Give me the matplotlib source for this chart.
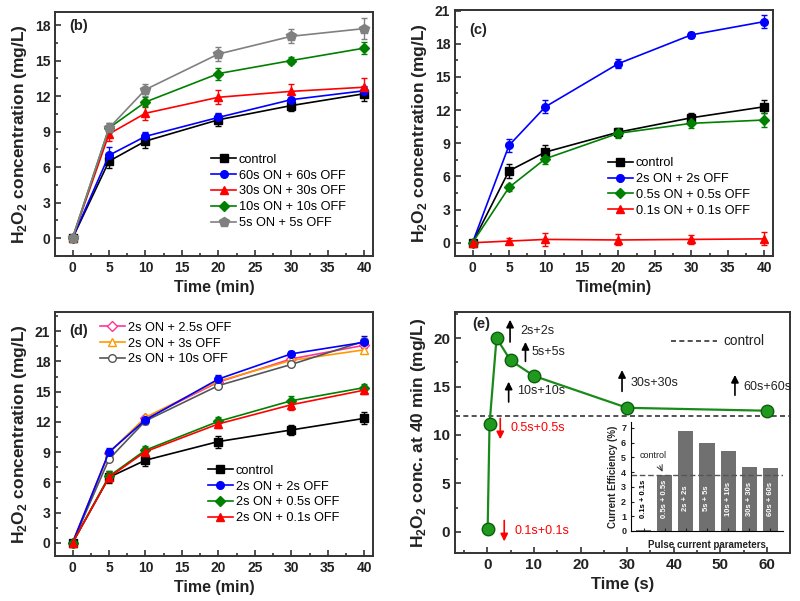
import matplotlib
matplotlib.use("Agg")
import matplotlib.pyplot as plt
from matplotlib.ticker import MultipleLocator, AutoMinorLocator

plt.rcParams['font.family'] = ['Liberation Sans', 'DejaVu Sans']
plt.rcParams['mathtext.fontset'] = 'custom'
plt.rcParams['mathtext.rm'] = 'Liberation Sans'
plt.rcParams['mathtext.bf'] = 'Liberation Sans:bold'

# --- DONNEES ---
t = [0, 5, 10, 20, 30, 40]

# panneau (b)
b_control = [0, 6.5, 8.2, 10.0, 11.2, 12.2]
b_60 = [0, 7.0, 8.6, 10.2, 11.7, 12.45]
b_30 = [0, 8.8, 10.55, 11.9, 12.4, 12.75]
b_10 = [0, 9.3, 11.5, 13.9, 15.0, 16.05]
b_5 = [0, 9.3, 12.55, 15.55, 17.05, 17.7]
b_control_err = [0, 0.6, 0.6, 0.5, 0.5, 0.6]
b_60_err = [0, 0.7, 0.4, 0.4, 0.4, 0.4]
b_30_err = [0, 0.6, 0.6, 0.6, 0.6, 0.8]
b_10_err = [0, 0.4, 0.4, 0.5, 0.3, 0.5]
b_5_err = [0, 0.4, 0.5, 0.6, 0.6, 0.9]

# panneau (c)
c_control = [0, 6.5, 8.2, 10.0, 11.3, 12.3]
c_2 = [0, 8.8, 12.3, 16.2, 18.8, 20.0]
c_05 = [0, 5.0, 7.6, 9.9, 10.8, 11.1]
c_01 = [0, 0.15, 0.3, 0.25, 0.3, 0.35]
c_control_err = [0, 0.6, 0.6, 0.4, 0.4, 0.6]
c_2_err = [0, 0.6, 0.6, 0.4, 0.3, 0.6]
c_05_err = [0, 0.3, 0.5, 0.4, 0.4, 0.6]
c_01_err = [0, 0.3, 0.6, 0.5, 0.4, 0.6]

# panneau (d)
d_control = [0, 6.5, 8.2, 10.05, 11.2, 12.35]
d_2 = [0, 9.0, 12.2, 16.25, 18.75, 19.9]
d_05 = [0, 6.6, 9.2, 12.05, 14.1, 15.4]
d_01 = [0, 6.5, 9.05, 11.8, 13.7, 15.15]
d_25 = [0, 8.95, 12.35, 15.95, 18.25, 19.6]
d_3 = [0, 8.95, 12.45, 16.05, 18.1, 19.15]
d_10 = [0, 8.3, 12.1, 15.6, 17.7, 20.0]
d_control_err = [0, 0.6, 0.6, 0.6, 0.5, 0.6]
d_2_err = [0, 0.4, 0.4, 0.4, 0.3, 0.6]
d_05_err = [0, 0.5, 0.4, 0.4, 0.5, 0.4]
d_01_err = [0, 0.5, 0.4, 0.4, 0.5, 0.4]

# panneau (e)
e_periode = [0.1, 0.5, 2, 5, 10, 30, 60]
e_conc = [0.3, 11.1, 20.0, 17.7, 16.1, 12.8, 12.5]
e_controle = 12.0

# encart : rendement de courant
ins_labels = ["0.1s + 0.1s", "0.5s + 0.5s", "2s + 2s", "5s + 5s",
              "10s + 10s", "30s + 30s", "60s + 60s"]
ins_eff = [0.05, 3.8, 6.8, 6.0, 5.45, 4.35, 4.25]
ins_controle = 3.8

TXT = '#222222'
ylab = r'H$_\mathbf{2}$O$_\mathbf{2}$ concentration (mg/L)'
LEG = dict(frameon=False, fontsize=9.2, handlelength=2, handletextpad=0.2,
           labelspacing=0.3, borderpad=0, borderaxespad=0)


def style_axes(ax, xmaj, ymaj, size=10):
    ax.xaxis.set_major_locator(MultipleLocator(xmaj))
    ax.yaxis.set_major_locator(MultipleLocator(ymaj))
    ax.xaxis.set_minor_locator(AutoMinorLocator(2))
    ax.yaxis.set_minor_locator(AutoMinorLocator(2))
    ax.tick_params(which='both', direction='in', top=False, right=False,
                   labelsize=size, colors=TXT, width=1.1)
    ax.tick_params(which='major', length=4)
    ax.tick_params(which='minor', length=2.5)
    for lab in ax.get_xticklabels() + ax.get_yticklabels():
        lab.set_fontweight('bold')
    for sp in ax.spines.values():
        sp.set_linewidth(1.4)
        sp.set_color('#333333')


def courbe(ax, y, err, color, marker, ms=5.5, mfc=None):
    cont = ax.errorbar(t, y, yerr=err, color=color, marker=marker, ms=ms,
                       mfc=mfc if mfc else color, mec=color, lw=1.2, capsize=2,
                       elinewidth=1)
    return cont.lines[0]


fig = plt.figure(figsize=(8.0, 6.01), dpi=100)

# --- (b) ---
axb = fig.add_axes([55/800, 345/601, 318/800, 244/601])
hb = [courbe(axb, b_control, b_control_err, 'black', 's'),
      courbe(axb, b_60, b_60_err, 'blue', 'o'),
      courbe(axb, b_30, b_30_err, 'red', '^'),
      courbe(axb, b_10, b_10_err, 'green', 'D', ms=5),
      courbe(axb, b_5, b_5_err, 'gray', 'p', ms=7)]
axb.set_xlim(-2.4, 41.2)
axb.set_ylim(-1.5, 19.1)
style_axes(axb, 5, 3)
axb.set_xlabel('Time (min)', fontsize=11.5, fontweight='bold', color=TXT)
axb.set_ylabel(ylab, fontsize=12.5, fontweight='bold', color=TXT)
axb.text(-0.5, 17.6, '(b)', fontsize=10.5, fontweight='bold', color=TXT)
axb.legend(hb, ['control', '60s ON + 60s OFF', '30s ON + 30s OFF',
                '10s ON + 10s OFF', '5s ON + 5s OFF'],
           loc='lower left', bbox_to_anchor=(0.49, 0.11), **LEG)

# --- (c) ---
axc = fig.add_axes([455/800, 345/601, 318/800, 246/601])
hc = [courbe(axc, c_control, c_control_err, 'black', 's'),
      courbe(axc, c_2, c_2_err, 'blue', 'o'),
      courbe(axc, c_05, c_05_err, 'green', 'D', ms=5),
      courbe(axc, c_01, c_01_err, 'red', '^')]
axc.set_xlim(-2.4, 41.2)
axc.set_ylim(-1.2, 21.05)
style_axes(axc, 5, 3)
axc.set_xlabel('Time(min)', fontsize=11.5, fontweight='bold', color=TXT)
axc.set_ylabel(ylab, fontsize=12.5, fontweight='bold', color=TXT)
axc.text(-0.5, 18.9, '(c)', fontsize=10.5, fontweight='bold', color=TXT)
axc.legend(hc, ['control', '2s ON + 2s OFF', '0.5s ON + 0.5s OFF',
                '0.1s ON + 0.1s OFF'],
           loc='lower left', bbox_to_anchor=(0.48, 0.16), **LEG)

# --- (d) ---
axd = fig.add_axes([55/800, 45/601, 318/800, 244/601])
hd = [courbe(axd, d_control, d_control_err, 'black', 's'),
      courbe(axd, d_2, d_2_err, 'blue', 'o'),
      courbe(axd, d_05, d_05_err, 'green', 'D', ms=5),
      courbe(axd, d_01, d_01_err, 'red', '^')]
h25, = axd.plot(t, d_25, color='#ff3399', marker='D', ms=5, mfc='white', lw=1.2)
h3, = axd.plot(t, d_3, color='#ff9900', marker='^', ms=6, mfc='white', lw=1.2)
h10, = axd.plot(t, d_10, color='#555555', marker='o', ms=5.5, mfc='white', lw=1.2)
axd.set_xlim(-2.4, 41.2)
axd.set_ylim(-1.3, 22.9)
style_axes(axd, 5, 3)
axd.set_xlabel('Time (min)', fontsize=11.5, fontweight='bold', color=TXT)
axd.set_ylabel(ylab, fontsize=12.5, fontweight='bold', color=TXT)
axd.text(-0.5, 20.6, '(d)', fontsize=10.5, fontweight='bold', color=TXT)
leg1 = axd.legend(hd, ['control', '2s ON + 2s OFF', '2s ON + 0.5s OFF',
                       '2s ON + 0.1s OFF'],
                  loc='lower left', bbox_to_anchor=(0.48, 0.13), **LEG)
axd.add_artist(leg1)
axd.legend([h25, h3, h10], ['2s ON + 2.5s OFF', '2s ON + 3s OFF', '2s ON + 10s OFF'],
           loc='upper left', bbox_to_anchor=(0.14, 0.96), **LEG)

# --- (e) ---
axe = fig.add_axes([455/800, 48/601, 335/800, 241/601])
axe.plot(e_periode, e_conc, color='#1a8a1a', lw=1.6, marker='o', ms=9,
         mfc='#1f9a1f', mec='#0d5e0d', zorder=3)
axe.axhline(e_controle, color='#333333', ls=(0, (3, 2)), lw=1.2)
axe.set_xlim(-6.9, 64.9)
axe.set_ylim(-2.2, 22.7)
style_axes(axe, 10, 5, size=11)
axe.set_xlabel('Time (s)', fontsize=12, fontweight='bold', color=TXT)
axe.set_ylabel('H$_\\mathbf{2}$O$_\\mathbf{2}$ conc. at 40 min (mg/L)',
               fontsize=12.5, fontweight='bold', color=TXT)
axe.text(-3.2, 21.0, '(e)', fontsize=10.5, fontweight='bold', color=TXT)
axe.plot([39.5, 49.2], [19.7, 19.7], color='#333333', ls=(0, (3, 2)), lw=1.2)
axe.text(50.7, 19.7, 'control', fontsize=9.8, va='center', color=TXT)

# (x flèche, y départ, y arrivée, texte, x texte, y texte)
fleches_haut = [(4.9, 19.6, 21.9, '2s+2s', 7.1, 20.75),
                (8.2, 17.6, 19.6, '5s+5s', 9.6, 18.6),
                (4.6, 13.4, 15.5, '10s+10s', 6.4, 14.5),
                (28.9, 14.5, 16.7, '30s+30s', 30.8, 15.4),
                (53.1, 14.1, 16.2, '60s+60s', 54.8, 15.0)]
for xa, y0, y1, txt, xt, yt in fleches_haut:
    axe.annotate('', xy=(xa, y1), xytext=(xa, y0),
                 arrowprops=dict(arrowstyle='-|>', color='black', lw=1.2,
                                 mutation_scale=11, shrinkA=0, shrinkB=0))
    axe.text(xt, yt, txt, fontsize=9, va='center', color=TXT)

fleches_bas = [(2.8, 11.7, 9.55, '0.5s+0.5s', 5.0, 10.7),
               (3.65, 1.16, -1.0, '0.1s+0.1s', 5.9, 0.1)]
for xa, y0, y1, txt, xt, yt in fleches_bas:
    axe.annotate('', xy=(xa, y1), xytext=(xa, y0),
                 arrowprops=dict(arrowstyle='-|>', color='red', lw=1.2,
                                 mutation_scale=11, shrinkA=0, shrinkB=0))
    axe.text(xt, yt, txt, fontsize=9, va='center', color='red')

# --- encart ---
axi = fig.add_axes([631/800, 70/601, 152/800, 109/601])
pos = list(range(len(ins_labels)))
axi.bar(pos, ins_eff, width=0.72, color='#707070')
axi.axhline(ins_controle, color='#555555', ls=(0, (4, 2)), lw=1)
axi.set_xlim(-0.6, 6.6)
axi.set_ylim(0, 7.4)
axi.spines['top'].set_visible(False)
axi.spines['right'].set_visible(False)
axi.set_xticks(pos)
axi.set_xticklabels([])
axi.yaxis.set_major_locator(MultipleLocator(1))
axi.tick_params(direction='in', labelsize=6.5, length=2.5, colors=TXT)
for lab in axi.get_yticklabels():
    lab.set_fontweight('bold')
axi.set_ylabel('Current Efficiency (%)', fontsize=7, fontweight='bold',
               color=TXT, labelpad=2)
axi.set_xlabel('Pulse current parameters', fontsize=7, fontweight='bold',
               color=TXT, labelpad=3)
for i, lab in enumerate(ins_labels):
    axi.text(i, 2.2, lab, rotation=90, ha='center', va='center', fontsize=5.5,
             color='black' if i == 0 else 'white', fontweight='bold')
axi.text(0.45, 5.1, 'control', fontsize=6.5, ha='center', va='center', color=TXT)
axi.annotate('', xy=(0.95, 3.85), xytext=(0.7, 4.6),
             arrowprops=dict(arrowstyle='->', color='#333333', lw=0.7))

fig.savefig('out.png', dpi=100)
